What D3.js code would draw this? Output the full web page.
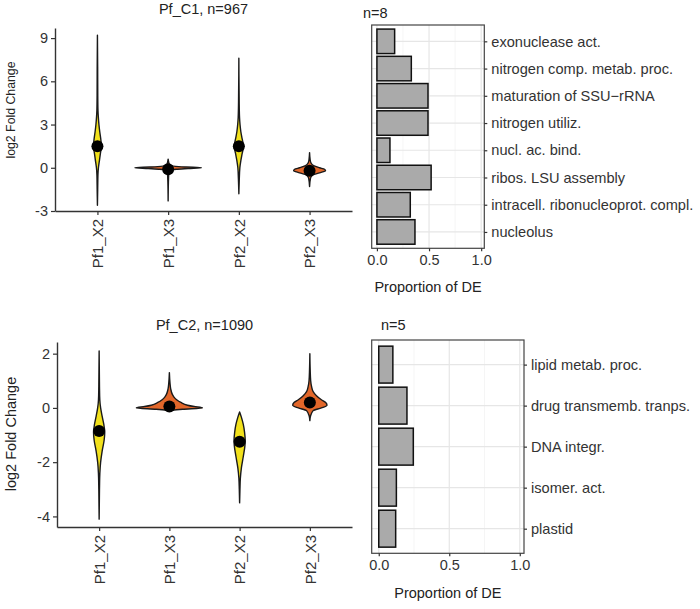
<!DOCTYPE html>
<html>
<head>
<meta charset="utf-8">
<script src="https://cdn.jsdelivr.net/npm/d3@7/dist/d3.min.js"></script>
<style>
  html, body { margin: 0; padding: 0; background: #fff; }
  svg { display: block; font-family: "Liberation Sans", Arial, Helvetica, sans-serif; }
</style>
</head>
<body>
<svg id="chart" width="700" height="609"></svg>
<script>
// ---------------- DATA ----------------
const groups = ["Pf1_X2", "Pf1_X3", "Pf2_X2", "Pf2_X3"];

// Cluster 1 (top)
const c1Title = "Pf_C1, n=967";
const c1Ticks = [-3, 0, 3, 6, 9];
const c1Medians = [1.5, -0.1, 1.5, -0.2];
// violin profiles: [log2FC value, relative density]
const c1Pf1X2 = [[-2.6,0],[-1.5,0.008],[-0.5,0.015],[0,0.03],[0.5,0.06],[1.0,0.09],[1.5,0.12],[2.0,0.1],[2.5,0.07],[3.0,0.045],[3.5,0.028],[4.0,0.016],[5.0,0.01],[7.0,0.007],[9.2,0]];
const c1Pf1X3 = [[-2.3,0],[-1.0,0.008],[-0.4,0.02],[-0.2,0.06],[-0.1,0.25],[-0.05,0.6],[0,1.0],[0.05,0.55],[0.1,0.22],[0.2,0.05],[0.4,0.015],[0.6,0]];
const c1Pf2X2 = [[-1.8,0],[-1.0,0.01],[0,0.03],[0.5,0.06],[1.0,0.1],[1.5,0.14],[2.0,0.1],[2.5,0.06],[3.0,0.035],[3.5,0.02],[4.5,0.01],[7.6,0]];
const c1Pf2X3 = [[-1.3,0],[-0.7,0.03],[-0.5,0.1],[-0.35,0.3],[-0.2,0.48],[-0.1,0.45],[0,0.3],[0.15,0.12],[0.35,0.04],[0.6,0.015],[1.05,0]];

// Cluster 2 (bottom)
const c2Title = "Pf_C2, n=1090";
const c2Ticks = [-4, -2, 0, 2];
const c2Medians = [-0.85, 0.05, -1.25, 0.2];
const c2Pf1X2 = [[-4.1,0],[-3.0,0.01],[-2.4,0.022],[-2.0,0.045],[-1.6,0.09],[-1.2,0.15],[-0.9,0.17],[-0.6,0.14],[-0.3,0.09],[0,0.045],[0.3,0.02],[0.8,0.01],[2.1,0]];
const c2Pf1X3 = [[-0.1,0],[-0.05,0.4],[0,1.0],[0.05,0.75],[0.1,0.55],[0.2,0.35],[0.3,0.22],[0.4,0.14],[0.5,0.09],[0.7,0.04],[0.9,0.02],[1.3,0]];
const c2Pf2X2 = [[-3.5,0],[-3.0,0.01],[-2.6,0.022],[-2.2,0.055],[-1.8,0.11],[-1.4,0.16],[-1.2,0.17],[-0.9,0.15],[-0.6,0.11],[-0.35,0.055],[-0.15,0]];
const c2Pf2X3 = [[-0.47,0],[-0.3,0.02],[-0.1,0.1],[0,0.35],[0.1,0.52],[0.2,0.48],[0.3,0.35],[0.45,0.2],[0.6,0.1],[0.8,0.05],[1.0,0.025],[1.4,0.01],[2.0,0]];

// GO enrichment bars
const go1Title = "n=8";
const go1Terms = ["exonuclease act.", "nitrogen comp. metab. proc.", "maturation of SSU\u2212rRNA", "nitrogen utiliz.", "nucl. ac. bind.", "ribos. LSU assembly", "intracell. ribonucleoprot. compl.", "nucleolus"];
const go1Props = [0.17, 0.33, 0.49, 0.49, 0.125, 0.52, 0.32, 0.365];
const go2Title = "n=5";
const go2Terms = ["lipid metab. proc.", "drug transmemb. tranps.", "DNA integr.", "isomer. act.", "plastid"];
const go2Props = [0.1, 0.2, 0.245, 0.125, 0.12];
const propTicks = [0, 0.5, 1.0];
const yLabel = "log2 Fold Change";
const xLabelGO = "Proportion of DE";

// ---------------- STYLE ----------------
const YELLOW = "#F2E11C", ORANGE = "#E2672A";
const groupFill = [YELLOW, ORANGE, YELLOW, ORANGE];
const svg = d3.select("#chart");
const AX = "#333";

function drawViolinPanel(o) {
  const g = svg.append("g");
  const y = d3.scaleLinear().domain(o.yDomain).range([o.bottom, o.top]);
  const x = d3.scalePoint().domain(groups).range([o.left, o.right]).padding(0.6);
  const halfMax = 0.47 * x.step();
  const w = d3.scaleLinear().domain([0, 1]).range([0, halfMax]);

  const ya = g.append("g").attr("transform", `translate(${o.left},0)`)
    .call(d3.axisLeft(y).tickValues(o.ticks).tickSize(4).tickSizeOuter(0).tickPadding(3).tickFormat(d3.format("d")));
  const xa = g.append("g").attr("transform", `translate(0,${o.bottom})`)
    .call(d3.axisBottom(x).tickSize(4).tickSizeOuter(0));
  [ya, xa].forEach(a => {
    a.select(".domain").attr("stroke", AX).attr("stroke-width", 1.4);
    a.selectAll(".tick line").attr("stroke", AX).attr("stroke-width", 1.2);
    a.selectAll("text").attr("fill", "#333").attr("font-size", 14.5);
  });
  ya.selectAll("text").text(d => String(d).replace("\u2212", "-"));
  xa.selectAll("text")
    .attr("transform", "rotate(-90)")
    .attr("text-anchor", "end")
    .attr("x", -8).attr("y", 0).attr("dy", "0.35em")
    .attr("font-size", 15);

  o.profiles.forEach((prof, i) => {
    const cx = x(groups[i]);
    const area = d3.area()
      .y(d => y(d[0]))
      .x0(d => cx - w(d[1]))
      .x1(d => cx + w(d[1]))
      .curve(d3.curveMonotoneY);
    g.append("path").datum(prof).attr("d", area)
      .attr("fill", groupFill[i]).attr("stroke", "#1a1a1a")
      .attr("stroke-width", 1.4).attr("stroke-linejoin", "round");
    g.append("circle").attr("cx", cx).attr("cy", y(o.medians[i])).attr("r", 6).attr("fill", "#000");
  });

  g.append("text").attr("x", (o.left + o.right) / 2).attr("y", o.titleY)
    .attr("text-anchor", "middle").attr("font-size", 14.5).attr("fill", "#222").text(o.title);
  g.append("text").attr("transform", `translate(${o.ylabX},${o.ylabY}) rotate(-90)`)
    .attr("text-anchor", "middle").attr("dy", "0.35em")
    .attr("font-size", o.ylabSize).attr("fill", "#222").text(yLabel);
}

function drawBarPanel(o) {
  const g = svg.append("g");
  const x = d3.scaleLinear().domain([-0.05, 1.03]).range([o.left, o.right]);
  const y = d3.scalePoint().domain(o.terms).range([o.top, o.bottom]).padding(0.6);
  const bh = 0.9 * y.step();

  const minor = d3.pairs(propTicks).map(p => (p[0] + p[1]) / 2);
  g.selectAll(".gmin").data(minor).join("line")
    .attr("x1", d => x(d)).attr("x2", d => x(d)).attr("y1", o.top).attr("y2", o.bottom)
    .attr("stroke", "#F3F3F3").attr("stroke-width", 0.8);
  g.selectAll(".gmaj").data(propTicks).join("line")
    .attr("x1", d => x(d)).attr("x2", d => x(d)).attr("y1", o.top).attr("y2", o.bottom)
    .attr("stroke", "#E6E6E6").attr("stroke-width", 1.2);
  g.selectAll(".gh").data(o.terms).join("line")
    .attr("x1", o.left).attr("x2", o.right).attr("y1", d => y(d)).attr("y2", d => y(d))
    .attr("stroke", "#E6E6E6").attr("stroke-width", 1.2);

  g.selectAll(".bar").data(o.props).join("rect")
    .attr("x", x(0)).attr("y", (d, i) => y(o.terms[i]) - bh / 2)
    .attr("width", d => x(d) - x(0)).attr("height", bh)
    .attr("fill", "#AAAAAA").attr("stroke", "#111").attr("stroke-width", 1.5);

  g.append("rect").attr("x", o.left).attr("y", o.top)
    .attr("width", o.right - o.left).attr("height", o.bottom - o.top)
    .attr("fill", "none").attr("stroke", "#444").attr("stroke-width", 1.2);

  const ra = g.append("g").attr("transform", `translate(${o.right},0)`)
    .call(d3.axisRight(y).tickSize(3).tickSizeOuter(0).tickPadding(4));
  const ba = g.append("g").attr("transform", `translate(0,${o.bottom})`)
    .call(d3.axisBottom(x).tickValues(propTicks).tickFormat(d3.format(".1f")).tickSize(3).tickSizeOuter(0).tickPadding(3));
  [ra, ba].forEach(a => {
    a.select(".domain").remove();
    a.selectAll(".tick line").attr("stroke", "#333").attr("stroke-width", 1.2);
    a.selectAll("text").attr("fill", "#333").attr("font-size", 14.5);
  });
  ra.selectAll("text").attr("font-size", 14.6);

  g.append("text").attr("x", o.titleX).attr("y", o.titleY)
    .attr("font-size", 14.5).attr("fill", "#222").text(o.title);
  g.append("text").attr("x", (o.left + o.right) / 2).attr("y", o.xlabY)
    .attr("text-anchor", "middle").attr("font-size", 14.5).attr("fill", "#222").text(xLabelGO);
}

drawViolinPanel({
  left: 55, right: 352, top: 28, bottom: 211, yDomain: [-3.0, 9.7],
  ticks: c1Ticks, medians: c1Medians, profiles: [c1Pf1X2, c1Pf1X3, c1Pf2X2, c1Pf2X3],
  title: c1Title, titleY: 14, ylabX: 11, ylabY: 110, ylabSize: 12.3
});
drawViolinPanel({
  left: 57, right: 352, top: 342, bottom: 527, yDomain: [-4.39, 2.43],
  ticks: c2Ticks, medians: c2Medians, profiles: [c2Pf1X2, c2Pf1X3, c2Pf2X2, c2Pf2X3],
  title: c2Title, titleY: 330, ylabX: 11, ylabY: 434, ylabSize: 14.5
});
drawBarPanel({
  left: 371.7, right: 484.3, top: 25, bottom: 248.3, terms: go1Terms, props: go1Props,
  title: go1Title, titleX: 363, titleY: 18, xlabY: 292
});
drawBarPanel({
  left: 371.7, right: 524, top: 340, bottom: 553.3, terms: go2Terms, props: go2Props,
  title: go2Title, titleX: 381, titleY: 330, xlabY: 598
});
</script>
</body>
</html>
